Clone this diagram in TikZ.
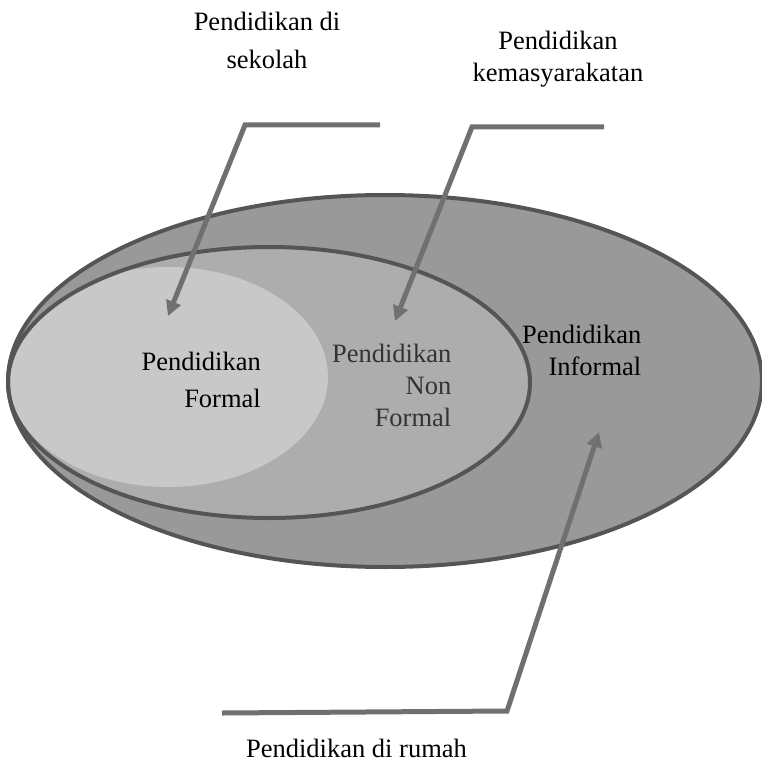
\documentclass[tikz,border=0pt]{standalone}
\usepackage{fontspec}
\setmainfont{Liberation Serif}
\usetikzlibrary{arrows.meta}
\definecolor{outerfill}{HTML}{999999}
\definecolor{midfill}{HTML}{ADADAD}
\definecolor{lightfill}{HTML}{C8C8C8}
\definecolor{rim}{HTML}{555555}
\definecolor{arrowgray}{HTML}{707070}
\definecolor{nftext}{HTML}{333333}
\tikzset{
  rimline/.style={draw=rim, line width=4pt},
  pointer/.style={draw=arrowgray, line width=5pt, line join=miter,
    -{Triangle[length=15pt,width=15pt]}},
  lbl/.style={font=\fontsize{26.5}{30}\selectfont, inner sep=0pt},
}
\begin{document}
\begin{tikzpicture}[x=1pt,y=-1pt]
\useasboundingbox (0,0) rectangle (762,762);
% ellipses
\path[fill=outerfill] (385,381) ellipse [x radius=377, y radius=186];
\path[fill=midfill] (269,382.5) ellipse [x radius=261, y radius=135.5];
\begin{scope}
  \clip (269,382.5) ellipse [x radius=261, y radius=135.5];
  \path[fill=lightfill] (168,377) ellipse [x radius=160, y radius=110];
\end{scope}
\path[rimline] (269,382.5) ellipse [x radius=261, y radius=135.5];
\path[rimline] (385,381) ellipse [x radius=377, y radius=186];
% labels
\node[lbl, anchor=base] (s1) at (267,31) {Pendidikan di};
\node[lbl, anchor=base] (s2) at (267,68.5) {sekolah};
\node[lbl, anchor=base] (k1) at (558,50) {Pendidikan};
\node[lbl, anchor=base] (k2) at (558,81.5) {kemasyarakatan};
\node[lbl, anchor=base east] (f1) at (261,370) {Pendidikan};
\node[lbl, anchor=base east] (f2) at (261,407) {Formal};
\node[lbl, anchor=base east, text=nftext] (n1) at (451.5,362) {Pendidikan};
\node[lbl, anchor=base east, text=nftext] (n2) at (451.5,394) {Non};
\node[lbl, anchor=base east, text=nftext] (n3) at (451.5,426.5) {Formal};
\node[lbl, anchor=base east] (i1) at (641.5,343.5) {Pendidikan};
\node[lbl, anchor=base east] (i2) at (641.5,375) {Informal};
\node[lbl, anchor=base] (r1) at (356.5,757) {Pendidikan di rumah};
% pointer coordinates
\coordinate (a1s) at (380,125);
\coordinate (a1b) at (245,125);
\coordinate (a1t) at (168,316);
\coordinate (a2s) at (604,127);
\coordinate (a2b) at (472,127);
\coordinate (a2t) at (395,321);
\coordinate (a3s) at (222,713);
\coordinate (a3b) at (507,711);
\coordinate (a3t) at (599,432);
\draw[pointer] (a1s) -- (a1b) -- (a1t);
\draw[pointer] (a2s) -- (a2b) -- (a2t);
\draw[pointer] (a3s) -- (a3b) -- (a3t);
\end{tikzpicture}
\end{document}
